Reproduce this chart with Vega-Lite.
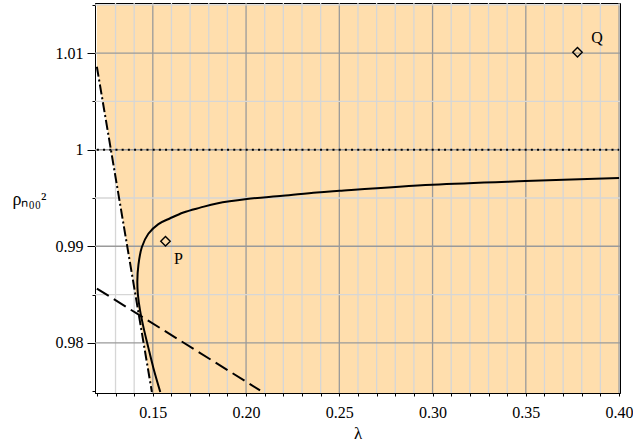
{
  "$schema": "https://vega.github.io/schema/vega-lite/v6.json",
  "autosize": {"type": "none"},
  "width": 525,
  "height": 390,
  "padding": {"left": 95, "top": 3, "right": 13, "bottom": 51},
  "background": "white",
  "resolve": {"axis": {"x": "independent"}},
  "config": {
    "view": {"stroke": "black", "strokeWidth": 1},
    "font": "Liberation Serif, Times New Roman, serif",
    "axis": {
      "labelFont": "Liberation Serif, Times New Roman, serif",
      "titleFont": "Liberation Serif, Times New Roman, serif",
      "labelFontSize": 16,
      "labelColor": "black",
      "titleColor": "black",
      "titleFontWeight": "normal",
      "domainColor": "black",
      "domainWidth": 1,
      "tickColor": "black",
      "tickWidth": 1,
      "labelOverlap": false,
      "grid": false
    }
  },
  "datasets": {
    "region": [
      {"rho": 1.0150, "left": 0.1200, "right": 0.4000},
      {"rho": 1.0086, "left": 0.1200, "right": 0.4000},
      {"rho": 0.9748, "left": 0.1496, "right": 0.4000}
    ],
    "xgrid": [
      {"lam": 0.13}, {"lam": 0.14}, {"lam": 0.15}, {"lam": 0.16}, {"lam": 0.17}, {"lam": 0.18}, {"lam": 0.19}, {"lam": 0.20},
      {"lam": 0.21}, {"lam": 0.22}, {"lam": 0.23}, {"lam": 0.24}, {"lam": 0.25}, {"lam": 0.26}, {"lam": 0.27}, {"lam": 0.28},
      {"lam": 0.29}, {"lam": 0.30}, {"lam": 0.31}, {"lam": 0.32}, {"lam": 0.33}, {"lam": 0.34}, {"lam": 0.35}, {"lam": 0.36},
      {"lam": 0.37}, {"lam": 0.38}, {"lam": 0.39}, {"lam": 0.40}
    ],
    "ygrid": [
      {"rho": 0.980}, {"rho": 0.985}, {"rho": 0.990}, {"rho": 0.995}, {"rho": 1.000}, {"rho": 1.005}, {"rho": 1.010}, {"rho": 1.015}
    ],
    "curve": [
      {"lam": 0.1540, "rho": 0.9749},
      {"lam": 0.1503, "rho": 0.9774},
      {"lam": 0.1476, "rho": 0.9795},
      {"lam": 0.1450, "rho": 0.9816},
      {"lam": 0.1432, "rho": 0.9833},
      {"lam": 0.1420, "rho": 0.9850},
      {"lam": 0.1417, "rho": 0.9864},
      {"lam": 0.1423, "rho": 0.9881},
      {"lam": 0.1441, "rho": 0.9899},
      {"lam": 0.1476, "rho": 0.9913},
      {"lam": 0.1530, "rho": 0.9923},
      {"lam": 0.1593, "rho": 0.9929},
      {"lam": 0.1664, "rho": 0.9935},
      {"lam": 0.1754, "rho": 0.9940},
      {"lam": 0.1843, "rho": 0.99444},
      {"lam": 0.2004, "rho": 0.9949},
      {"lam": 0.2196, "rho": 0.99523},
      {"lam": 0.2379, "rho": 0.99558},
      {"lam": 0.2501, "rho": 0.99575},
      {"lam": 0.2999, "rho": 0.99637},
      {"lam": 0.3498, "rho": 0.99675},
      {"lam": 0.4000, "rho": 0.99706}
    ],
    "dashdot": [
      {"lam": 0.1200, "rho": 1.0086},
      {"lam": 0.1495, "rho": 0.9749}
    ],
    "dashed": [
      {"lam": 0.1200, "rho": 0.98562},
      {"lam": 0.2075, "rho": 0.97507}
    ],
    "dotted": [
      {"lam": 0.1200, "rho": 1.0},
      {"lam": 0.4000, "rho": 1.0}
    ],
    "points": [
      {"lam": 0.1568, "rho": 0.99053, "name": "P"},
      {"lam": 0.3777, "rho": 1.0101, "name": "Q"}
    ],
    "labels": [
      {"lam": 0.1637, "rho": 0.98873, "name": "P"},
      {"lam": 0.3882, "rho": 1.01159, "name": "Q"}
    ]
  },
  "layer": [
    {
      "data": {"name": "region"},
      "mark": {"type": "area", "orient": "horizontal", "color": "#FFDEAD", "opacity": 1},
      "encoding": {
        "y": {
          "field": "rho", "type": "quantitative",
          "scale": {"domain": [0.9748, 1.0152], "nice": false, "zero": false},
          "axis": {
            "values": [0.975, 0.98, 0.985, 0.99, 0.995, 1.0, 1.005, 1.01, 1.015],
            "labelExpr": "round(datum.value*200) % 2 == 0 ? format(datum.value, '.2~f') : ''",
            "tickSize": {"condition": {"test": "round(datum.value*200) % 2 == 0", "value": 8}, "value": 3},
            "labelPadding": 4,
            "title": "ρₙ₀₀²",
            "titleFontSize": 18,
            "titleAngle": 0,
            "titleAlign": "left",
            "titleBaseline": "alphabetic",
            "titleX": -83,
            "titleY": 201
          }
        },
        "x": {
          "field": "left", "type": "quantitative",
          "scale": {"domain": [0.119, 0.4005], "nice": false, "zero": false},
          "axis": {
            "orient": "bottom",
            "values": [0.15, 0.2, 0.25, 0.3, 0.35, 0.4],
            "format": ".2f",
            "tickSize": 3,
            "labelPadding": 8,
            "labelFlush": false,
            "title": "λ",
            "titleFontSize": 17,
            "titleBaseline": "alphabetic",
            "titleY": 45
          }
        },
        "x2": {"field": "right"}
      }
    },
    {
      "data": {"name": "xgrid"},
      "mark": {"type": "rule", "strokeWidth": 1.3},
      "encoding": {
        "x": {
          "field": "lam", "type": "quantitative",
          "axis": {
            "orient": "bottom",
            "values": [0.12, 0.13, 0.14, 0.16, 0.17, 0.18, 0.19, 0.21, 0.22, 0.23, 0.24, 0.26, 0.27, 0.28, 0.29, 0.31, 0.32, 0.33, 0.34, 0.36, 0.37, 0.38, 0.39],
            "labels": false,
            "domain": false,
            "tickSize": 3,
            "title": null
          }
        },
        "color": {"condition": {"test": "round(datum.lam*100) % 5 == 0", "value": "#9a9a9a"}, "value": "#d6d6d6"}
      }
    },
    {
      "data": {"name": "ygrid"},
      "mark": {"type": "rule", "strokeWidth": 1.3},
      "encoding": {
        "y": {"field": "rho", "type": "quantitative"},
        "color": {"condition": {"test": "round(datum.rho*200) % 2 == 0", "value": "#9a9a9a"}, "value": "#d6d6d6"}
      }
    },
    {
      "data": {"name": "dotted"},
      "mark": {"type": "line", "color": "black", "strokeWidth": 2, "strokeDash": [2, 4.2], "strokeCap": "butt", "clip": true},
      "encoding": {
        "x": {"field": "lam", "type": "quantitative", "axis": null},
        "y": {"field": "rho", "type": "quantitative"}
      }
    },
    {
      "data": {"name": "dashdot"},
      "mark": {"type": "line", "color": "black", "strokeWidth": 2, "strokeDash": [10, 3, 2, 3], "clip": true},
      "encoding": {
        "x": {"field": "lam", "type": "quantitative", "axis": null},
        "y": {"field": "rho", "type": "quantitative"}
      }
    },
    {
      "data": {"name": "dashed"},
      "mark": {"type": "line", "color": "black", "strokeWidth": 2, "strokeDash": [14, 6], "clip": true},
      "encoding": {
        "x": {"field": "lam", "type": "quantitative", "axis": null},
        "y": {"field": "rho", "type": "quantitative"}
      }
    },
    {
      "data": {"name": "curve"},
      "mark": {"type": "line", "color": "black", "strokeWidth": 2, "interpolate": "catmull-rom", "clip": true},
      "encoding": {
        "x": {"field": "lam", "type": "quantitative", "axis": null},
        "y": {"field": "rho", "type": "quantitative"},
        "order": {"field": "rho", "type": "quantitative"}
      }
    },
    {
      "data": {"name": "points"},
      "mark": {"type": "point", "shape": "diamond", "size": 90, "filled": false, "color": "black", "strokeWidth": 1.4, "opacity": 1},
      "encoding": {
        "x": {"field": "lam", "type": "quantitative", "axis": null},
        "y": {"field": "rho", "type": "quantitative"}
      }
    },
    {
      "data": {"name": "labels"},
      "mark": {"type": "text", "font": "Liberation Serif, Times New Roman, serif", "fontSize": 16, "color": "black", "align": "center", "baseline": "middle"},
      "encoding": {
        "x": {"field": "lam", "type": "quantitative", "axis": null},
        "y": {"field": "rho", "type": "quantitative"},
        "text": {"field": "name"}
      }
    }
  ]
}
